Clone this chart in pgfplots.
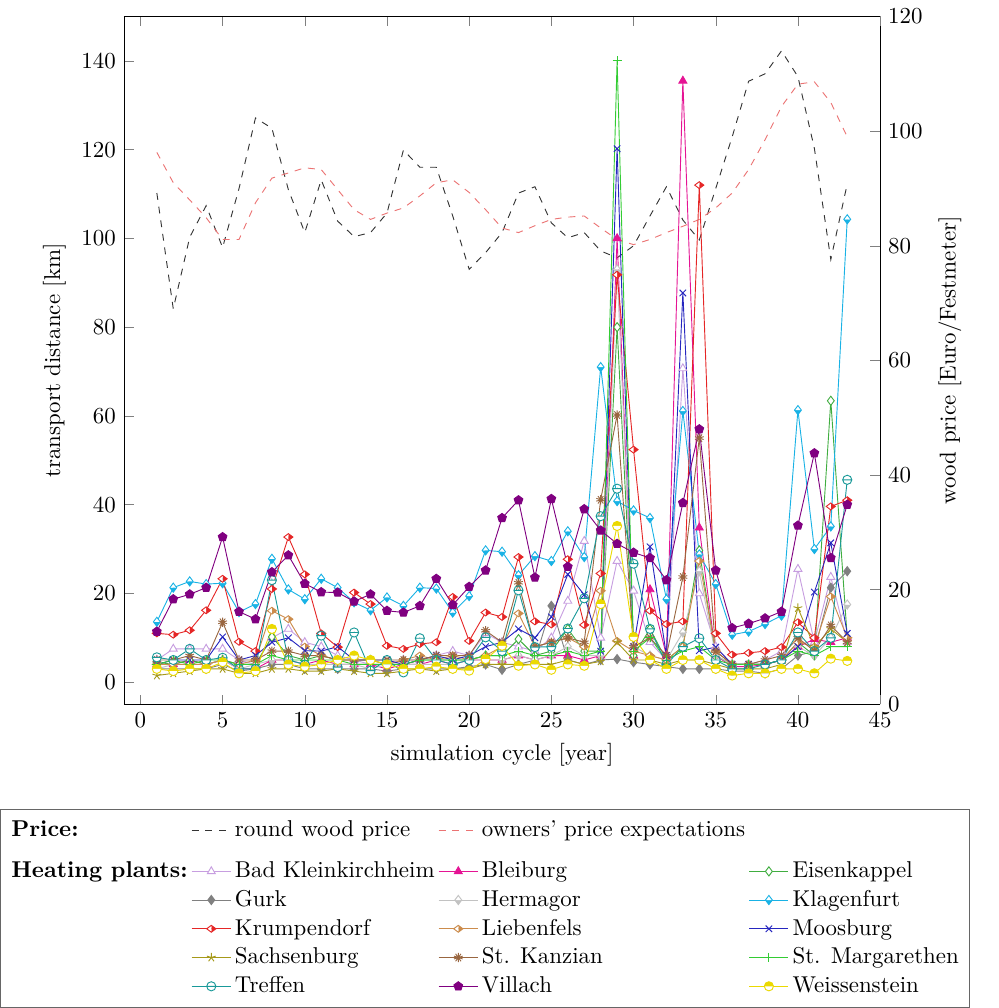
\documentclass[border=0pt]{standalone}
\usepackage{pgfplots}
\usepackage{pgfplotstable}
\pgfplotsset{compat=1.18}

\definecolor{cBK}{rgb}{0.78,0.62,0.88}
\definecolor{cBL}{rgb}{0.90,0.08,0.58}
\definecolor{cEK}{rgb}{0.25,0.68,0.25}
\definecolor{cGU}{rgb}{0.50,0.50,0.50}
\definecolor{cHE}{rgb}{0.76,0.76,0.76}
\definecolor{cKL}{rgb}{0.10,0.70,0.90}
\definecolor{cKR}{rgb}{0.90,0.15,0.15}
\definecolor{cLI}{rgb}{0.80,0.55,0.30}
\definecolor{cMO}{rgb}{0.15,0.15,0.75}
\definecolor{cSA}{rgb}{0.65,0.60,0.10}
\definecolor{cSK}{rgb}{0.60,0.40,0.25}
\definecolor{cSM}{rgb}{0.20,0.80,0.20}
\definecolor{cTR}{rgb}{0.10,0.60,0.60}
\definecolor{cVI}{rgb}{0.50,0.00,0.50}
\definecolor{cWE}{rgb}{0.92,0.85,0.00}
\definecolor{cOE}{rgb}{0.92,0.45,0.45}

\begin{document}
\begin{tikzpicture}

% wood prices (right axis)
\pgfplotstableread{
x RW OE
1 89.2 96.3
2 69 91
3 81.5 88
4 87 84.9
5 79.7 81.1
6 90 81.1
7 102.3 87.5
8 100.5 91.8
9 89.8 92.7
10 82.3 93.6
11 91.5 93.3
12 84.3 89.8
13 81.6 86.3
14 82.3 84.6
15 85.7 85.7
16 96.7 86.6
17 93.7 88.7
18 93.7 91
19 85.2 91.5
20 75.9 89.3
21 78.8 86.3
22 82.3 83.1
23 89.2 82.3
24 90.3 83.5
25 84 84.6
26 81.4 85
27 82.3 85.2
28 79.1 83.1
29 77.9 81.1
30 80 80.2
31 85.2 81.1
32 90.3 82.3
33 84.5 83.4
34 81 84.6
35 90 86.6
36 99 89.2
37 108.7 93.3
38 110 98.5
39 114 104.3
40 109.5 108.2
41 97 108.6
42 77.6 105
43 90.8 99
}\price

% transport distances per heating plant
\pgfplotstableread{
x BK BL EK GU HE KL KR LI MO SA SK SM TR VI WE
1 5 4 4.5 3 3 13.6 11 4 4 1.5 5 4 5.6 11.4 3
2 7.5 4 4 3 4 21.3 10.7 4 5 2 5 5 5 18.7 2.5
3 7.5 5 5 3 4 22.7 11.7 4 5 2.5 6 4 7.5 19.8 3
4 7.5 4 4 3 4 22.1 16.2 4 5 3 5 5 5 21.3 3
5 7.5 5 5 4 5 22.3 23.3 5 10.2 3 13.5 5 5.5 32.7 4.5
6 5 3 4 2.5 3 15.8 9.1 4 5 2 5 4 3 15.9 2
7 4 3 4 3 4 17.6 7 5 6 2 5 4 3 14.2 2.5
8 10 5 10.2 4 5 27.8 21 16.1 9 3 7 6 23 24.8 12
9 12 5 6 4 5 20.9 32.7 14.2 10 3 7 5 5 28.6 4
10 9 4 5 3 4 18.7 24.3 8 7.1 2.5 6 5 4 22.2 3.5
11 8 5 6 3 4 23.3 11 6 7 2.5 6 5 10.5 20.3 4
12 6 4 5 3 4 21.3 7.9 5 8 3 5 5 3.4 20.2 5
13 5 4 5 3 4 18 20.2 5 5 2.5 5 4 11.2 18.2 6
14 4 4 5 3 3 16.2 17.6 5 5 2 5 4 2.6 19.8 5
15 4 3 4 2.5 4 19.1 8.2 4 5 2 5 4 5 16.1 4
16 5 4 4 3 4 17.2 7.5 5 4 2.5 5 4 2.2 15.7 3
17 5 4 5 3 4 21.3 8.6 6 5 3 5 5 9.9 17.2 3
18 6 5 5 3 4 21.1 9 5 6 2.5 6 5 5 23.3 3.5
19 7 4 5 3 4 15.7 19.2 6 5 3 6 5 4 17.4 3
20 6 5 5 3.5 5 19.4 9.3 5 6 3 6 5 5 21.5 2.6
21 11 5 6 4 5 29.7 15.7 6 8 4 11.6 6 10.1 25.2 5.2
22 9 5 6 2.8 5 29.4 14.7 8 9 4 9 6 7 37 8.2
23 8 6 9.7 4 6 24.1 28.2 15.5 12 4 22.4 7 20.7 41 3.7
24 7 5 6 5 5 28.4 13.7 8 10 4 8 6 7.9 23.6 4
25 10 6 7 17.2 6 27.3 13 9 14.7 4 9 6 8 41.3 2.8
26 18.3 6 12 5 8 34 27.7 10 24.3 5 10 7 12.1 26 4
27 31.8 5 7 4 6 28.2 12.9 8 19.7 4 9 6 18.9 39 3.7
28 10 6 7 5 6 71 24.5 20.6 7 4.7 41.1 7 37.4 34.2 17.6
29 27.3 100 80 5.2 93 40.8 91.8 9.3 120.2 9 60.2 140 43.6 31.2 35.2
30 20.6 6 6 4.5 8 38.7 52.4 7 8 5 8 7 26.7 29.2 10.2
31 9 20.9 12 4 6 37 16.1 6 30.5 5 10 10 12 28 5
32 5 6 5 3.5 5 18.7 13.1 5 6 4 6 5 4 23 3
33 70.7 135.5 8 3 11.2 61.1 13.7 8 87.7 5 23.7 7 8 40.4 5
34 20 34.8 29.7 3 25 28.8 112 27.3 7.1 5 55 8 9.9 57 5
35 8 6 6 3 6 22.1 11 7 7.9 4 7 5 5 25.2 3
36 4 3.5 4 2.5 4 10.7 6.2 4 4 3 4 4 3 12.2 1.5
37 4 3.5 4 2.5 4 11.4 6.6 4 4 3 4 4 3 13.2 2
38 5 4 4 2 4 13.1 7 4 4 3 5 4 4 14.4 2
39 7 5 5 3 5 15 7.9 5 5 4 6 5 5 15.9 3
40 25.5 8 9 6 8 61.3 13.5 9 8 16.7 10 7 11.2 35.3 3
41 9 9.7 6 7 6 30 10 8 20.3 8 7 6 7 51.6 2
42 23.7 9 63.4 21.3 10 35.1 39.6 19.3 31.4 12 12.8 8 10 28 5.3
43 9 10 10 25 17.5 104.3 41 10 11 9 9 8 45.6 40 4.8
}\plants

\begin{axis}[
  scale only axis, width=330pt, height=300.2pt,
  xmin=-1, xmax=45, ymin=0, ymax=120,
  axis y line*=right, axis x line=none,
  ytick={0,20,...,120},
  ylabel={wood price [Euro/Festmeter]},
]
\addplot[black!80, dashed] table[x=x, y=RW] {\price};
\addplot[cOE, dashed] table[x=x, y=OE] {\price};
\end{axis}

\begin{axis}[
  scale only axis, width=330pt, height=300.2pt,
  xmin=-1, xmax=45, ymin=-5, ymax=150,
  axis y line*=left,
  xtick={0,5,...,45}, ytick={0,20,...,140},
  xlabel={simulation cycle [year]},
  ylabel={transport distance [km]},
  legend columns=4,
  legend cell align=left,
  legend style={at={(-0.1635,-0.152)}, anchor=north west,
    draw=black!60, inner xsep=3pt, inner ysep=3pt,
    nodes={inner xsep=1.6pt, inner ysep=2pt, text depth=0.15em},
    /tikz/row 2/.style={nodes={text height=1.4pt, text depth=0pt}}},
]
\addlegendimage{empty legend}\addlegendentry{\textbf{Price:}}
\addlegendimage{black!80, dashed}\addlegendentry{round wood price}
\addlegendimage{cOE, dashed}\addlegendentry{owners' price expectations}
\addlegendimage{empty legend}\addlegendentry{}
% spacer row
\addlegendimage{empty legend}\addlegendentry{}
\addlegendimage{empty legend}\addlegendentry{}
\addlegendimage{empty legend}\addlegendentry{}
\addlegendimage{empty legend}\addlegendentry{}

\addlegendimage{empty legend}\addlegendentry{\textbf{Heating plants:}}
\addplot[cBK, mark=triangle*, mark options={fill=white}] table[x=x, y=BK] {\plants};
\addlegendentry{Bad Kleinkirchheim}
\addplot[cBL, mark=triangle*] table[x=x, y=BL] {\plants};
\addlegendentry{Bleiburg}
\addplot[cEK, mark=diamond*, mark options={fill=white}] table[x=x, y=EK] {\plants};
\addlegendentry{Eisenkappel}

\addlegendimage{empty legend}\addlegendentry{}
\addplot[cGU, mark=diamond*] table[x=x, y=GU] {\plants};
\addlegendentry{Gurk}
\addplot[cHE, mark=halfdiamond*] table[x=x, y=HE] {\plants};
\addlegendentry{Hermagor}
\addplot[cKL, mark=halfdiamond*] table[x=x, y=KL] {\plants};
\addlegendentry{Klagenfurt}

\addlegendimage{empty legend}\addlegendentry{}
\addplot[cKR, mark=halfdiamond*, mark options={rotate=90}] table[x=x, y=KR] {\plants};
\addlegendentry{Krumpendorf}
\addplot[cLI, mark=halfdiamond*, mark options={rotate=90}] table[x=x, y=LI] {\plants};
\addlegendentry{Liebenfels}
\addplot[cMO, mark=x] table[x=x, y=MO] {\plants};
\addlegendentry{Moosburg}

\addlegendimage{empty legend}\addlegendentry{}
\addplot[cSA, mark=star] table[x=x, y=SA] {\plants};
\addlegendentry{Sachsenburg}
\addplot[cSK, mark=10-pointed star] table[x=x, y=SK] {\plants};
\addlegendentry{St. Kanzian}
\addplot[cSM, mark=+] table[x=x, y=SM] {\plants};
\addlegendentry{St. Margarethen}

\addlegendimage{empty legend}\addlegendentry{}
\addplot[cTR, mark=halfcircle] table[x=x, y=TR] {\plants};
\addlegendentry{Treffen}
\addplot[cVI, mark=pentagon*] table[x=x, y=VI] {\plants};
\addlegendentry{Villach}
\addplot[cWE, mark=halfcircle*] table[x=x, y=WE] {\plants};
\addlegendentry{Weissenstein}
\end{axis}

% overall extent as in the reference
\path (-54.1pt,-130.9pt) rectangle (381.6pt,307.4pt);
\end{tikzpicture}
\end{document}
